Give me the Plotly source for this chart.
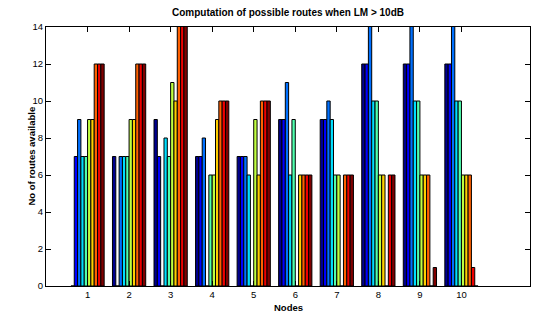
import plotly.graph_objects as go

nodes = [1, 2, 3, 4, 5, 6, 7, 8, 9, 10]
# routes available, one list per series (bar position within each node group)
s1 = [0, 7, 9, 7, 7, 9, 9, 12, 12, 12]
s2 = [7, 0, 7, 7, 7, 9, 9, 12, 12, 12]
s3 = [9, 7, 0, 8, 7, 11, 10, 15, 15, 15]
s4 = [7, 7, 8, 0, 6, 6, 9, 10, 10, 10]
s5 = [7, 7, 7, 6, 0, 9, 6, 10, 10, 10]
s6 = [9, 9, 11, 6, 9, 0, 6, 6, 6, 6]
s7 = [9, 9, 10, 9, 6, 6, 0, 6, 6, 6]
s8 = [12, 12, 15, 10, 10, 6, 6, 0, 6, 6]
s9 = [12, 12, 15, 10, 10, 6, 6, 6, 0, 1]
s10 = [12, 12, 15, 10, 10, 6, 6, 6, 1, 0]
series = [s1, s2, s3, s4, s5, s6, s7, s8, s9, s10]
yticks = [0, 2, 4, 6, 8, 10, 12, 14]

colors = ["rgb(0,0,143)", "rgb(0,0,255)", "rgb(0,112,255)", "rgb(0,223,255)",
          "rgb(80,255,175)", "rgb(191,255,64)", "rgb(255,207,0)", "rgb(255,96,0)",
          "rgb(239,0,0)", "rgb(128,0,0)"]

fig = go.Figure()
for vals, c in zip(series, colors):
    fig.add_trace(go.Bar(x=nodes, y=vals, marker=dict(color=c, line=dict(color="black", width=1)),
                         showlegend=False))

font = "Liberation Sans, Arial, Helvetica, sans-serif"
fig.update_layout(
    width=541, height=320,
    margin=dict(l=46, r=11, t=27, b=34),
    paper_bgcolor="white", plot_bgcolor="white",
    barmode="group", bargap=0.2, bargroupgap=0,
    font=dict(family=font, size=9, color="black"),
    xaxis=dict(range=[0, 11.65], tickvals=nodes, ticks="inside", ticklen=5, tickcolor="black",
               showline=True, linecolor="black", linewidth=1, mirror="ticks", showgrid=False,
               zeroline=False, tickfont=dict(size=9.5)),
    yaxis=dict(range=[0, 14], tickvals=yticks, ticks="inside", ticklen=5, tickcolor="black",
               showline=True, linecolor="black", linewidth=1, mirror="ticks", showgrid=False,
               zeroline=False, tickfont=dict(size=9.5)),
    annotations=[
        dict(text="<b>Computation of possible routes when LM > 10dB</b>", xref="paper", yref="paper",
             x=0.5, y=1, yshift=15, xanchor="center", yanchor="middle", showarrow=False,
             font=dict(size=10)),
        dict(text="<b>Nodes</b>", xref="paper", yref="paper", x=0.5, y=0, yshift=-21,
             xanchor="center", yanchor="middle", showarrow=False, font=dict(size=9.5)),
        dict(text="<b>No of routes available</b>", xref="paper", yref="paper", x=0, y=0.5,
             xshift=-15, xanchor="center", yanchor="middle", textangle=-90, showarrow=False,
             font=dict(size=9.5)),
    ],
)
fig.write_html("out.html")
